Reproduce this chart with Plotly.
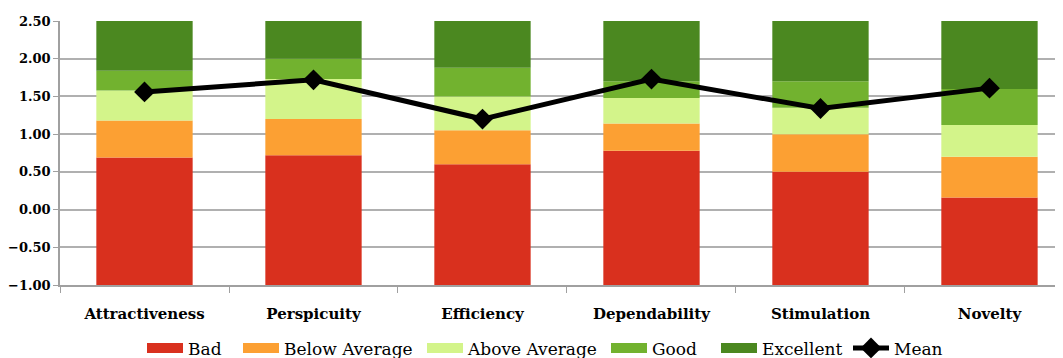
import plotly.graph_objects as go

categories = ["Attractiveness", "Perspicuity", "Efficiency", "Dependability", "Stimulation", "Novelty"]
# upper bounds of benchmark ranges (lowest range starts at -1.00)
axis_min = -1.0
bad_upper = [0.69, 0.72, 0.60, 0.78, 0.50, 0.16]
below_avg_upper = [1.18, 1.20, 1.05, 1.14, 1.00, 0.70]
above_avg_upper = [1.58, 1.73, 1.50, 1.48, 1.35, 1.12]
good_upper = [1.84, 2.00, 1.88, 1.70, 1.70, 1.60]
excellent_upper = [2.50, 2.50, 2.50, 2.50, 2.50, 2.50]
mean_values = [1.56, 1.72, 1.20, 1.73, 1.34, 1.61]

series_names = ["Bad", "Below Average", "Above Average", "Good", "Excellent"]
series_colors = ["#D9301E", "#FCA033", "#D3F48A", "#72B22F", "#4B8820"]
uppers = [bad_upper, below_avg_upper, above_avg_upper, good_upper, excellent_upper]

FONT = "DejaVu Serif"
PLOT_LEFT, PLOT_W = 60, 1003  # page pixels of plot area
legend_swatch_px = [148, 244, 428, 612, 722, 854]  # legend entry positions (page px)
legend_ids = ["legend", "legend2", "legend3", "legend4", "legend5", "legend6"]

fig = go.Figure()
lower = [axis_min] * len(categories)
for name, color, up in zip(series_names, series_colors, uppers):
    fig.add_trace(go.Bar(
        x=categories, y=[u - l for u, l in zip(up, lower)], base=lower,
        name=name, marker=dict(color=color, line=dict(width=0)),
        width=0.57, hoverinfo="skip", showlegend=False,
    ))
    lower = up

# legend-only entries drawn as wide swatches
for name, color, lid in zip(series_names, series_colors, legend_ids):
    fig.add_trace(go.Scatter(
        x=[None], y=[None], mode="lines", name=name, legend=lid,
        line=dict(color=color, width=11), showlegend=True,
    ))

fig.add_trace(go.Scatter(
    x=categories, y=mean_values, name="Mean", mode="lines+markers", legend=legend_ids[5],
    line=dict(color="black", width=5),
    marker=dict(symbol="diamond", size=16, color="black"),
))

legend_style = dict(orientation="h", xanchor="left", y=-0.24, yanchor="middle",
                    font=dict(size=17, family=FONT, color="black"),
                    itemwidth=36, bgcolor="rgba(0,0,0,0)")
legend_layout = {}
for lid, px in zip(legend_ids, legend_swatch_px):
    legend_layout[lid] = dict(legend_style, x=(px - 6 - PLOT_LEFT) / PLOT_W)

# the page body has an 8px default margin, so the figure is 8px smaller
fig.update_layout(
    width=1055, height=350,
    margin=dict(l=52, r=0, t=13, b=73, autoexpand=False),
    barmode="overlay",
    plot_bgcolor="white", paper_bgcolor="white",
    font=dict(family=FONT, color="black"),
    showlegend=True,
    **legend_layout,
)
fig.update_xaxes(
    showline=True, linecolor="#A0A0A0", linewidth=1.5,
    ticks="outside", tickson="boundaries", ticklen=6, tickcolor="#A0A0A0",
    tickfont=dict(size=15, family=FONT, color="black", weight="bold"),
    ticklabelstandoff=14,
    showgrid=False, range=[-0.5, 5.435], automargin=False,
)
fig.update_yaxes(
    range=[-1.0, 2.5], dtick=0.5, tick0=0, tickformat=".2f",
    showline=True, linecolor="#A0A0A0", linewidth=1.5,
    ticks="outside", ticklen=5, tickcolor="#A0A0A0",
    showgrid=True, gridcolor="#B0B0B0", gridwidth=1.5,
    tickfont=dict(size=13, family=FONT, color="black", weight="bold"),
    zeroline=False, automargin=False,
)
fig.write_html("out.html")
